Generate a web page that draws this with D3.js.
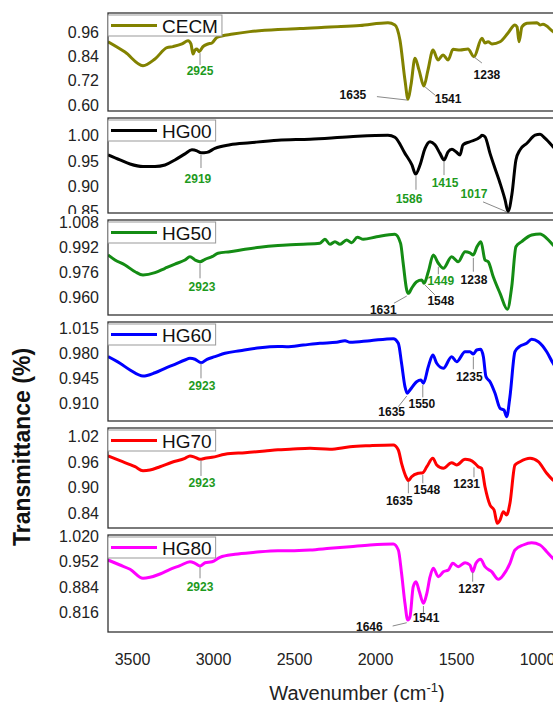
<!DOCTYPE html>
<html>
<head>
<meta charset="utf-8">
<script src="https://cdn.jsdelivr.net/npm/d3@7"></script>
<style>
  html, body { margin: 0; padding: 0; background: #fff; }
  svg { display: block; font-family: Arial, "Liberation Sans", sans-serif; }
</style>
</head>
<body>
<svg id="chart" width="553" height="702"></svg>
<script>
// series, top to bottom
const names = ['CECM', 'HG00', 'HG50', 'HG60', 'HG70', 'HG80'];
const colors = ['#828200', '#000000', '#148c14', '#0000ff', '#ff0000', '#ff00ff'];

const xTicks = [3500, 3000, 2500, 2000, 1500, 1000];
const yDomains = [[0.570, 1.054], [0.847, 1.035], [0.9487, 1.0093], [0.8857, 1.0233], [0.806, 1.039], [0.765, 1.023]];
const yTicks = [
  [0.60, 0.72, 0.84, 0.96],
  [0.85, 0.90, 0.95, 1.00],
  [0.960, 0.976, 0.992, 1.008],
  [0.910, 0.945, 0.980, 1.015],
  [0.84, 0.90, 0.96, 1.02],
  [0.816, 0.884, 0.952, 1.020]
];
const yDigits = [2, 2, 3, 3, 2, 3];

// [wavenumber, transmittance]
const cecm = [[3648,0.912],[3543,0.861],[3432,0.794],[3358,0.827],[3284,0.883],[3247,0.888],[3191,0.901],[3154,0.917],[3136,0.901],[3123,0.851],[3111,0.871],[3099,0.876],[3086,0.863],[3062,0.888],[3031,0.901],[3006,0.906],[2975,0.934],[2877,0.950],[2772,0.962],[2599,0.973],[2463,0.977],[2278,0.985],[2093,0.992],[1920,1.006],[1877,0.995],[1846,0.921],[1815,0.723],[1796,0.628],[1778,0.698],[1753,0.830],[1728,0.772],[1698,0.693],[1673,0.772],[1642,0.871],[1611,0.822],[1580,0.847],[1549,0.822],[1518,0.875],[1475,0.871],[1426,0.876],[1389,0.838],[1340,0.929],[1321,0.906],[1302,0.912],[1278,0.901],[1228,0.912],[1179,0.955],[1136,0.995],[1123,0.985],[1111,0.912],[1093,0.985],[1062,1.003],[1000,1.006],[981,0.995],[963,0.998],[901,0.962],[858,0.940]];

const hg00 = [[3648,0.962],[3574,0.952],[3512,0.944],[3432,0.939],[3358,0.939],[3296,0.942],[3235,0.952],[3173,0.964],[3130,0.972],[3099,0.970],[3074,0.966],[3037,0.967],[2988,0.975],[2895,0.982],[2772,0.986],[2599,0.991],[2401,0.993],[2154,0.998],[1920,1.001],[1877,0.997],[1815,0.965],[1772,0.942],[1749,0.924],[1722,0.942],[1691,0.975],[1660,0.988],[1630,0.982],[1599,0.965],[1574,0.952],[1549,0.968],[1525,0.973],[1500,0.968],[1475,0.962],[1457,0.982],[1414,0.988],[1352,0.997],[1340,1.001],[1321,0.998],[1290,0.965],[1259,0.935],[1228,0.906],[1197,0.873],[1179,0.850],[1154,0.886],[1130,0.952],[1105,0.972],[1062,0.985],[1012,1.001],[981,1.003],[951,0.995],[901,0.978],[858,0.962]];

const hg50 = [[3648,0.9870],[3605,0.9838],[3543,0.9806],[3481,0.9763],[3432,0.9742],[3358,0.9757],[3296,0.9785],[3235,0.9812],[3173,0.9838],[3142,0.9859],[3111,0.9838],[3080,0.9827],[3049,0.9842],[3006,0.9859],[2969,0.9881],[2895,0.9891],[2802,0.9906],[2710,0.9919],[2599,0.9930],[2545,0.9934],[2443,0.9938],[2340,0.9944],[2309,0.9970],[2278,0.9938],[2247,0.9955],[2216,0.9938],[2175,0.9965],[2144,0.9948],[2109,0.9983],[2072,0.9970],[1990,0.9986],[1877,1.0002],[1842,0.9944],[1826,0.9817],[1804,0.9646],[1794,0.9625],[1774,0.9657],[1743,0.9699],[1711,0.9710],[1697,0.9689],[1671,0.9763],[1640,0.9870],[1609,0.9817],[1578,0.9785],[1527,0.9859],[1486,0.9827],[1444,0.9891],[1414,0.9884],[1393,0.9870],[1372,0.9919],[1346,0.9955],[1321,0.9838],[1301,0.9827],[1270,0.9731],[1228,0.9625],[1183,0.9523],[1156,0.9667],[1130,0.9923],[1095,0.9955],[1033,0.9997],[981,1.0004],[940,0.9976],[901,0.9934],[858,0.9889]];

const hg60 = [[3648,0.9751],[3574,0.9659],[3512,0.9566],[3432,0.9482],[3358,0.9528],[3296,0.9589],[3235,0.9645],[3173,0.9705],[3142,0.9728],[3111,0.9715],[3074,0.9667],[3037,0.9715],[2988,0.9751],[2926,0.9798],[2833,0.9834],[2710,0.9876],[2599,0.9892],[2545,0.9890],[2443,0.9913],[2340,0.9937],[2237,0.9951],[2185,0.9973],[2154,0.9951],[2031,0.9973],[1887,1.0001],[1856,0.9937],[1836,0.9659],[1815,0.9334],[1801,0.9242],[1784,0.9288],[1743,0.9403],[1717,0.9427],[1701,0.9381],[1671,0.9612],[1643,0.9774],[1619,0.9659],[1578,0.9589],[1527,0.9751],[1496,0.9681],[1444,0.9820],[1414,0.9820],[1393,0.9788],[1372,0.9844],[1348,0.9854],[1331,0.9751],[1315,0.9473],[1290,0.9403],[1259,0.9242],[1228,0.9033],[1204,0.9010],[1187,0.8917],[1167,0.9195],[1136,0.9820],[1109,0.9890],[1064,0.9937],[1033,0.9992],[992,0.9959],[940,0.9820],[901,0.9659],[858,0.9538]];

const hg70 = [[3648,0.9738],[3574,0.9628],[3481,0.9488],[3432,0.9395],[3389,0.9411],[3327,0.9488],[3253,0.9591],[3173,0.9684],[3142,0.9738],[3111,0.9707],[3080,0.9661],[3049,0.9684],[3006,0.9707],[2926,0.9777],[2802,0.9815],[2679,0.9854],[2599,0.9884],[2525,0.9894],[2401,0.9917],[2278,0.9894],[2154,0.9954],[2031,0.9978],[1887,0.9994],[1856,0.9877],[1836,0.9568],[1804,0.9218],[1794,0.9162],[1774,0.9255],[1733,0.9335],[1705,0.9349],[1680,0.9488],[1643,0.9684],[1619,0.9528],[1578,0.9451],[1527,0.9581],[1496,0.9528],[1444,0.9661],[1414,0.9644],[1383,0.9568],[1363,0.9488],[1342,0.9451],[1321,0.9022],[1290,0.8596],[1265,0.8479],[1245,0.8169],[1228,0.8246],[1208,0.8440],[1187,0.8363],[1167,0.8636],[1136,0.9528],[1105,0.9605],[1043,0.9684],[992,0.9605],[940,0.9335],[901,0.9178],[858,0.9085]];

const hg80 = [[3648,0.9565],[3574,0.9432],[3512,0.9318],[3432,0.9078],[3389,0.9105],[3327,0.9193],[3265,0.9318],[3204,0.9413],[3142,0.9520],[3111,0.9477],[3080,0.9405],[3049,0.9493],[3006,0.9520],[2957,0.9637],[2864,0.9717],[2741,0.9770],[2599,0.9812],[2525,0.9812],[2401,0.9831],[2278,0.9876],[2154,0.9919],[2031,0.9964],[1887,0.9991],[1856,0.9831],[1836,0.9211],[1815,0.8413],[1798,0.7969],[1784,0.8057],[1764,0.8855],[1747,0.8988],[1726,0.8722],[1701,0.8413],[1680,0.8679],[1660,0.9121],[1640,0.9344],[1609,0.9121],[1578,0.9254],[1547,0.9299],[1520,0.9477],[1486,0.9387],[1444,0.9493],[1414,0.9432],[1397,0.9254],[1377,0.9477],[1348,0.9584],[1321,0.9387],[1280,0.9254],[1238,0.9052],[1208,0.9166],[1167,0.9477],[1136,0.9831],[1085,0.9964],[1033,1.0025],[981,0.9964],[940,0.9786],[901,0.9610],[858,0.9485]];

// peak labels: [text, tip wn, tip T, leader end wn, leader end T, text wn, text T, green]
const cecmPeaks = [
  ['2925', 3080, 0.856, 3080, 0.797, 3080, 0.768, 1],
  ['1635', 1988, 0.641, 1802, 0.624, 2136, 0.651, 0],
  ['1541', 1691, 0.689, 1630, 0.649, 1549, 0.632, 0],
  ['1238', 1389, 0.837, 1340, 0.807, 1309, 0.748, 0]
];
const hg00Peaks = [
  ['2919', 3074, 0.962, 3074, 0.936, 3093, 0.914, 1],
  ['1586', 1747, 0.920, 1747, 0.893, 1790, 0.876, 1],
  ['1415', 1574, 0.948, 1574, 0.922, 1568, 0.907, 1],
  ['1017', 1333, 0.869, 1185, 0.849, 1389, 0.885, 1]
];
const hg50Peaks = [
  ['2923', 3080, 0.9817, 3080, 0.9721, 3068, 0.9667, 1],
  ['1631', 1883, 0.9562, 1804, 0.9608, 1949, 0.9523, 0],
  ['1548', 1691, 0.9678, 1630, 0.9615, 1594, 0.9578, 0],
  ['1449', 1609, 0.9795, 1609, 0.9747, 1594, 0.9706, 1],
  ['1238', 1393, 0.9851, 1393, 0.9763, 1389, 0.9715, 0]
];
const hg60Peaks = [
  ['2923', 3074, 0.9659, 3074, 0.9450, 3068, 0.9343, 1],
  ['1635', 1856, 0.9056, 1804, 0.9204, 1897, 0.8986, 0],
  ['1550', 1705, 0.9357, 1705, 0.9186, 1711, 0.9103, 0],
  ['1235', 1393, 0.9751, 1393, 0.9576, 1418, 0.9473, 0]
];
const hg70Peaks = [
  ['2923', 3074, 0.9644, 3074, 0.9272, 3068, 0.9116, 1],
  ['1635', 1794, 0.9139, 1794, 0.8869, 1850, 0.8689, 0],
  ['1548', 1705, 0.9295, 1705, 0.9102, 1680, 0.8962, 0],
  ['1231', 1389, 0.9474, 1389, 0.9241, 1434, 0.9085, 0]
];
const hg80Peaks = [
  ['2923', 3080, 0.9387, 3080, 0.9078, 3080, 0.8855, 1],
  ['1646', 1891, 0.7809, 1804, 0.7897, 2035, 0.7791, 0],
  ['1541', 1701, 0.8341, 1701, 0.8129, 1685, 0.8041, 0],
  ['1237', 1397, 0.9254, 1397, 0.8988, 1403, 0.8794, 0]
];

const spectra = [cecm, hg00, hg50, hg60, hg70, hg80];
const peaks = [cecmPeaks, hg00Peaks, hg50Peaks, hg60Peaks, hg70Peaks, hg80Peaks];

// layout
const left = 108;
const tops = [13, 118, 220, 322, 428, 535];
const bottoms = [111, 213, 315, 421, 528, 632];
const labelGreen = '#1d9a1d';

const svg = d3.select('#chart');

const x = d3.scaleLinear().domain([3648, 700]).range([left, 585.6]);
const plotW = 585.6 - left;

names.forEach((name, i) => {
  const top = tops[i], bottom = bottoms[i];
  const g = svg.append('g');

  // each panel sits on its own white sheet
  g.append('rect')
    .attr('x', 40).attr('y', top - 6)
    .attr('width', 513).attr('height', bottom - top + 6)
    .attr('fill', '#fff');

  const y = d3.scaleLinear().domain(yDomains[i]).range([bottom, top]);

  g.append('clipPath').attr('id', 'clip' + i)
    .append('rect')
    .attr('x', left).attr('y', top)
    .attr('width', plotW).attr('height', bottom - top);

  const yAxis = g.append('g')
    .attr('transform', `translate(${left},0)`)
    .call(d3.axisLeft(y)
      .tickValues(yTicks[i])
      .tickFormat(d3.format(`.${yDigits[i]}f`))
      .tickSize(0)
      .tickPadding(9));
  yAxis.select('.domain').remove();
  yAxis.selectAll('text')
    .attr('font-size', 16)
    .attr('font-family', 'Arial, "Liberation Sans", sans-serif')
    .attr('fill', '#222');

  const line = d3.line()
    .x(d => x(d[0]))
    .y(d => y(d[1]))
    .curve(d3.curveMonotoneX);

  g.append('path')
    .datum(spectra[i])
    .attr('clip-path', `url(#clip${i})`)
    .attr('fill', 'none')
    .attr('stroke', colors[i])
    .attr('stroke-width', 3)
    .attr('stroke-linejoin', 'round')
    .attr('d', line);

  // peak annotations
  const ann = g.append('g');
  ann.selectAll('line')
    .data(peaks[i])
    .join('line')
    .attr('x1', d => x(d[1])).attr('y1', d => y(d[2]))
    .attr('x2', d => x(d[3])).attr('y2', d => y(d[4]))
    .attr('stroke', '#8a8a8a')
    .attr('stroke-width', 1);
  ann.selectAll('text')
    .data(peaks[i])
    .join('text')
    .attr('x', d => x(d[5]))
    .attr('y', d => y(d[6]))
    .attr('dy', '0.36em')
    .attr('text-anchor', 'middle')
    .attr('font-size', 12)
    .attr('font-weight', 'bold')
    .attr('fill', d => d[7] ? labelGreen : '#111')
    .text(d => d[0]);

  // frame
  g.append('rect')
    .attr('x', left).attr('y', top)
    .attr('width', plotW).attr('height', bottom - top)
    .attr('fill', 'none')
    .attr('stroke', '#333')
    .attr('stroke-width', 1.3);

  // legend
  const lg = g.append('g').attr('transform', `translate(${left},${top + 2})`);
  const box = lg.append('rect')
    .attr('x', 0).attr('y', 0)
    .attr('height', 21)
    .attr('fill', '#fff')
    .attr('stroke', '#999')
    .attr('stroke-width', 1);
  lg.append('line')
    .attr('x1', 3).attr('x2', 49)
    .attr('y1', 10.5).attr('y2', 10.5)
    .attr('stroke', colors[i])
    .attr('stroke-width', 3);
  const lt = lg.append('text')
    .attr('x', 54).attr('y', 17.5)
    .attr('font-size', 19)
    .attr('fill', '#111')
    .text(name);
  box.attr('width', 54 + lt.node().getComputedTextLength() + 4);
});

// shared x axis
const xAxis = svg.append('g')
  .attr('transform', `translate(0,${bottoms[5]})`)
  .call(d3.axisBottom(x).tickValues(xTicks).tickFormat(d3.format('d')).tickSize(0).tickPadding(22));
xAxis.select('.domain').remove();
xAxis.selectAll('text')
  .attr('font-size', 16)
  .attr('font-family', 'Arial, "Liberation Sans", sans-serif')
  .attr('fill', '#222');

const xt = svg.append('text')
  .attr('x', 357).attr('y', 700)
  .attr('text-anchor', 'middle')
  .attr('font-size', 20)
  .attr('fill', '#222');
xt.append('tspan').text('Wavenumber (cm');
xt.append('tspan').attr('font-size', 13).attr('dy', -8).text('-1');
xt.append('tspan').attr('dy', 8).text(')');

svg.append('text')
  .attr('transform', 'translate(30,447) rotate(-90)')
  .attr('text-anchor', 'middle')
  .attr('font-size', 23)
  .attr('font-weight', 'bold')
  .attr('fill', '#111')
  .text('Transmittance (%)');
</script>
</body>
</html>
